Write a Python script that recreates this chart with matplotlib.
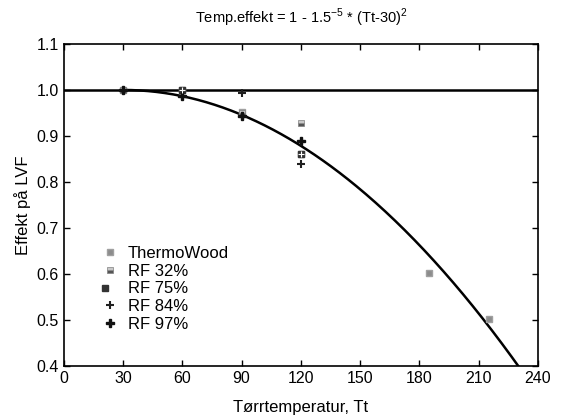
import numpy as np
import matplotlib
matplotlib.use("Agg")
from matplotlib import pyplot as plt
from matplotlib.legend_handler import HandlerTuple

plt.rcParams['font.family'] = ['Liberation Sans', 'DejaVu Sans']

# data
tw_x = [30, 60, 90, 120, 185, 215]
tw_y = [1.0, 1.0, 0.953, 0.861, 0.601, 0.501]
rf32_x = [30, 60, 90, 120]
rf32_y = [1.0, 1.0, 0.95, 0.928]
rf75_x = [60, 120]
rf75_y = [1.0, 0.861]
rf84_x = [90, 120]
rf84_y = [0.993, 0.839]
rf97_x = [30, 60, 90, 120]
rf97_y = [1.0, 0.987, 0.943, 0.888]

# model from the title: 1 - 1.5e-5 * (Tt-30)^2
coef = 1.5e-5
t0 = 30
tt = np.linspace(30, 240, 300)
eff = 1 - coef * (tt - t0) ** 2

fig = plt.figure(figsize=(5.65, 4.19), dpi=100)
ax = fig.add_axes([0.113, 0.127, 0.839, 0.768])

ax.axhline(1.0, color='black', lw=1.8, zorder=1)
ax.plot(tt, eff, color='black', lw=1.8, zorder=1)

h_tw, = ax.plot(tw_x, tw_y, ls='none', marker='s', ms=5, mfc='#8c8c8c', mec='#a0a0a0', zorder=3)
h_32, = ax.plot(rf32_x, rf32_y, ls='none', marker='s', ms=5, fillstyle='bottom',
                mfc='#555555', mfcalt='#c8c8c8', mec='#808080', mew=0.5, zorder=3)
h_75a, = ax.plot(rf75_x, rf75_y, ls='none', marker='s', ms=5, mfc='#333333', mec='#333333', zorder=3)
h_75b, = ax.plot(rf75_x, rf75_y, ls='none', marker='+', ms=5, mec='white', mew=0.8, zorder=4)
h_84, = ax.plot(rf84_x, rf84_y, ls='none', marker='+', ms=6, mec='#202020', mew=1.5, zorder=3)
h_97, = ax.plot(rf97_x, rf97_y, ls='none', marker='P', ms=6, mfc='#111111', mec='#111111', zorder=3)

ax.set_xlim(0, 240)
ax.set_ylim(0.4, 1.1)
ax.set_xticks(np.arange(0, 241, 30))
ax.set_yticks(np.arange(0.4, 1.11, 0.1))
ax.set_yticklabels(['%.1f' % v for v in np.arange(0.4, 1.11, 0.1)])
ax.tick_params(direction='in', top=True, right=True, length=4, labelsize=11.5, width=1)
for s in ax.spines.values():
    s.set_linewidth(1.2)

ax.set_title(r'Temp.effekt = 1 - 1.5$^{\mathregular{-5}}$ * (Tt-30)$^{\mathregular{2}}$', fontsize=10.5, pad=15)
ax.set_xlabel('Tørrtemperatur, Tt', fontsize=12, labelpad=10)
ax.set_ylabel('Effekt på LVF', fontsize=12, labelpad=4)

ax.legend([h_tw, h_32, (h_75a, h_75b), h_84, h_97],
          ['ThermoWood', 'RF 32%', 'RF 75%', 'RF 84%', 'RF 97%'],
          handler_map={tuple: HandlerTuple(ndivide=None)},
          loc='lower left', bbox_to_anchor=(0.072, 0.085),
          frameon=False, fontsize=12, handlelength=0.6, handletextpad=0.8,
          labelspacing=0.16, borderaxespad=0)

plt.savefig('out.png', dpi=100)
